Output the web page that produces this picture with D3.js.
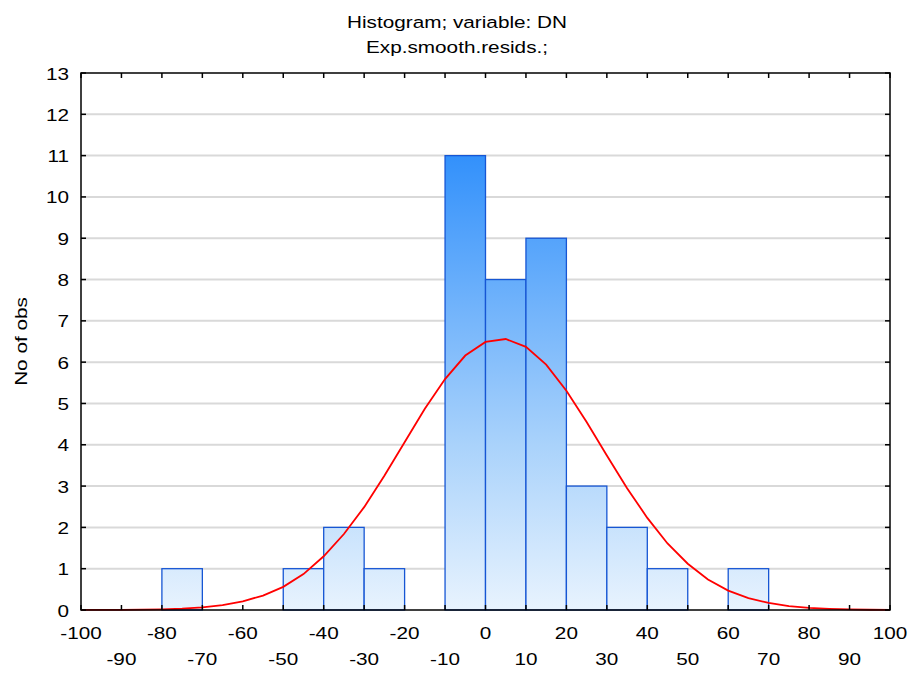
<!DOCTYPE html>
<html>
<head>
<meta charset="utf-8">
<script src="https://cdn.jsdelivr.net/npm/d3@7"></script>
<style>
  body { margin: 0; background: #fff; }
  text { font-family: "Liberation Sans", Arial, sans-serif; fill: #000; }
</style>
</head>
<body>
<div id="chart"></div>
<script>
// histogram bins (lower edge, upper edge, count)
const binStart = [-80, -50, -40, -30, -10, 0, 10, 20, 30, 40, 60];
const binEnd   = [-70, -40, -30, -20, 0, 10, 20, 30, 40, 50, 70];
const counts   = [1, 1, 2, 1, 11, 8, 9, 3, 2, 1, 1];

// expected normal curve
const curveX = [-100, -95, -90, -85, -80, -75, -70, -65, -60, -55, -50, -45, -40, -35, -30, -25, -20, -15, -10, -5, 0, 5, 10, 15, 20, 25, 30, 35, 40, 45, 50, 55, 60, 65, 70, 75, 80, 85, 90, 95, 100];
const curveY = [0.001, 0.002, 0.004, 0.008, 0.017, 0.034, 0.065, 0.12, 0.21, 0.35, 0.56, 0.87, 1.3, 1.84, 2.49, 3.25, 4.06, 4.87, 5.59, 6.16, 6.49, 6.56, 6.37, 5.94, 5.31, 4.55, 3.74, 2.95, 2.23, 1.61, 1.12, 0.74, 0.47, 0.29, 0.17, 0.095, 0.051, 0.027, 0.013, 0.006, 0.003];

const xTicks = d3.range(-100, 101, 10);
const yTicks = d3.range(0, 14, 1);

const width = 913, height = 673;
const margin = { top: 73, right: 23, bottom: 63, left: 81 };
const stretch = 1.22;

const svg = d3.select('#chart')
  .append('svg')
  .attr('width', width)
  .attr('height', height);

const x = d3.scaleLinear().domain([-100, 100]).range([margin.left, width - margin.right]);
const y = d3.scaleLinear().domain([0, 13]).range([height - margin.bottom, margin.top]);

// text drawn a bit wider than the font, like the original
function label(g, tx, ty, str, anchor, size, rot) {
  return g.append('text')
    .attr('transform', `translate(${tx},${ty})${rot ? ' rotate(' + rot + ')' : ''} scale(${stretch},1)`)
    .attr('text-anchor', anchor)
    .style('font-size', size + 'px')
    .text(str);
}

// gradient across the plot height
const defs = svg.append('defs');
const grad = defs.append('linearGradient')
  .attr('id', 'barGrad')
  .attr('gradientUnits', 'userSpaceOnUse')
  .attr('x1', 0).attr('x2', 0)
  .attr('y1', y(0)).attr('y2', y(11.5));
grad.append('stop').attr('offset', '0%').attr('stop-color', '#e8f3fe');
grad.append('stop').attr('offset', '35%').attr('stop-color', '#a9d2fb');
grad.append('stop').attr('offset', '100%').attr('stop-color', '#2a8cfb');

// grid
svg.append('g')
  .selectAll('line')
  .data(yTicks.slice(1, -1))
  .enter()
  .append('line')
  .attr('x1', x(-100)).attr('x2', x(100))
  .attr('y1', d => y(d)).attr('y2', d => y(d))
  .attr('stroke', '#d9d9d9')
  .attr('stroke-width', 2);

// bars
svg.append('g')
  .selectAll('rect')
  .data(counts)
  .enter()
  .append('rect')
  .attr('x', (d, i) => x(binStart[i]))
  .attr('y', d => y(d))
  .attr('width', (d, i) => x(binEnd[i]) - x(binStart[i]))
  .attr('height', d => y(0) - y(d))
  .attr('fill', 'url(#barGrad)')
  .attr('stroke', '#1656d4')
  .attr('stroke-width', 1.3);

// curve
const line = d3.line()
  .x((d, i) => x(curveX[i]))
  .y(d => y(d));

svg.append('path')
  .datum(curveY)
  .attr('d', line)
  .attr('fill', 'none')
  .attr('stroke', '#ff0000')
  .attr('stroke-width', 1.8);

// frame
svg.append('rect')
  .attr('x', x(-100)).attr('y', y(13))
  .attr('width', x(100) - x(-100))
  .attr('height', y(0) - y(13))
  .attr('fill', 'none')
  .attr('stroke', '#000')
  .attr('stroke-width', 1.5);

// inside ticks on all sides
const tk = 5;
const tickG = svg.append('g').attr('stroke', '#000').attr('stroke-width', 1.5);
xTicks.forEach(t => {
  tickG.append('line').attr('x1', x(t)).attr('x2', x(t)).attr('y1', y(0)).attr('y2', y(0) - tk);
  tickG.append('line').attr('x1', x(t)).attr('x2', x(t)).attr('y1', y(13)).attr('y2', y(13) + tk);
});
yTicks.forEach(t => {
  tickG.append('line').attr('x1', x(-100)).attr('x2', x(-100) + tk).attr('y1', y(t)).attr('y2', y(t));
  tickG.append('line').attr('x1', x(100)).attr('x2', x(100) - tk).attr('y1', y(t)).attr('y2', y(t));
});

// x labels, staggered on two rows
const xl = svg.append('g');
xTicks.forEach((t, i) => {
  label(xl, x(t), i % 2 === 0 ? y(0) + 29 : y(0) + 55, t, 'middle', 17);
});

// y labels
const yl = svg.append('g');
yTicks.forEach(t => {
  label(yl, x(-100) - 12, y(t) + 6.5, t, 'end', 17);
});

label(svg, 27, (y(0) + y(13)) / 2, 'No of obs', 'middle', 17, -90);

label(svg, 457, 28, 'Histogram; variable: DN', 'middle', 17);
label(svg, 457, 53, 'Exp.smooth.resids.;', 'middle', 17);
</script>
</body>
</html>
